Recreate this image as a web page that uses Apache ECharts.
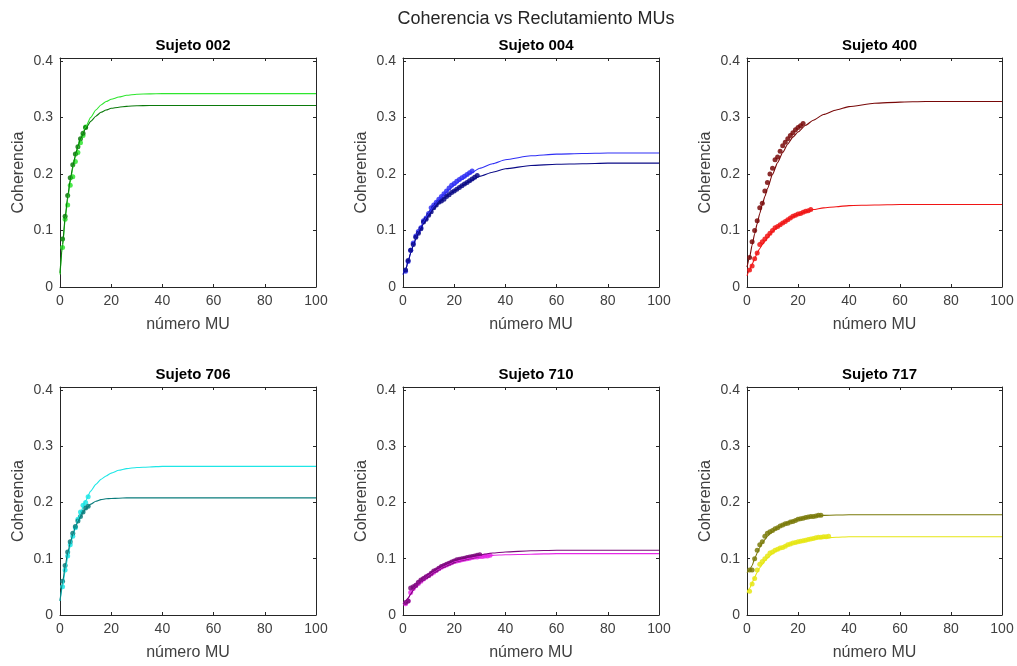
<!DOCTYPE html>
<html lang="es">
<head>
    <meta charset="UTF-8">
    <title>Coherencia vs Reclutamiento MUs</title>
    <script src="https://cdn.jsdelivr.net/npm/echarts@6/dist/echarts.min.js"></script>
</head>
<style>
    body { margin: 0; background: #fff; }
    #chart { width: 1017px; height: 666px; }
</style>
<body>
<div id="chart"></div>
<script>
    // x de los puntos de la curva ajustada
    var curveX = [0, 1, 2, 3, 4, 5, 6, 7, 8, 10, 12, 14, 16, 18, 20, 23, 26, 30, 35, 40, 50, 60, 70, 80, 100];

    var titles = ['Sujeto 002', 'Sujeto 004', 'Sujeto 400', 'Sujeto 706', 'Sujeto 710', 'Sujeto 717'];

    // Sujeto 002
    var s002Dark = [0.085, 0.125, 0.162, 0.193, 0.216, 0.235, 0.248, 0.262, 0.272, 0.282];
    var s002Light = [0.07, 0.12, 0.145, 0.18, 0.195, 0.222, 0.238, 0.255, 0.268, 0.283];
    var f002Dark = [0.025, 0.075, 0.123, 0.16, 0.19, 0.213, 0.233, 0.249, 0.262, 0.28, 0.293, 0.302, 0.309, 0.313, 0.316, 0.318, 0.3195, 0.3205, 0.321, 0.321, 0.321, 0.321, 0.321, 0.321, 0.321];
    var f002Light = [0.022, 0.07, 0.118, 0.155, 0.185, 0.21, 0.23, 0.246, 0.26, 0.283, 0.3, 0.313, 0.322, 0.328, 0.332, 0.336, 0.339, 0.341, 0.3415, 0.342, 0.342, 0.342, 0.342, 0.342, 0.342];

    // Sujeto 004
    var s004Dark = [0.03, 0.047, 0.065, 0.075, 0.088, 0.095, 0.103, 0.115, 0.12, 0.127, 0.133, 0.14, 0.145, 0.15, 0.152, 0.155, 0.16, 0.163, 0.167, 0.17, 0.173, 0.176, 0.179, 0.182, 0.185, 0.188, 0.191, 0.194, 0.197];
    var s004Light = [0.028, 0.045, 0.065, 0.078, 0.09, 0.098, 0.105, 0.117, 0.122, 0.13, 0.14, 0.145, 0.15, 0.155, 0.16, 0.165, 0.17, 0.175, 0.18, 0.183, 0.187, 0.19, 0.193, 0.196, 0.199, 0.202, 0.205];
    var f004Dark = [0.022, 0.03, 0.045, 0.06, 0.073, 0.085, 0.095, 0.104, 0.112, 0.126, 0.138, 0.148, 0.157, 0.164, 0.17, 0.179, 0.187, 0.196, 0.203, 0.209, 0.215, 0.217, 0.218, 0.219, 0.219];
    var f004Light = [0.022, 0.03, 0.045, 0.06, 0.074, 0.086, 0.097, 0.107, 0.115, 0.13, 0.143, 0.154, 0.164, 0.172, 0.18, 0.19, 0.2, 0.21, 0.218, 0.225, 0.232, 0.235, 0.236, 0.237, 0.237];

    // Sujeto 400
    var s400Dark = [0.052, 0.08, 0.1, 0.117, 0.14, 0.148, 0.17, 0.185, 0.2, 0.21, 0.225, 0.23, 0.24, 0.25, 0.256, 0.262, 0.268, 0.273, 0.278, 0.282, 0.285, 0.289];
    var s400Light = [0.03, 0.037, 0.05, 0.06, 0.075, 0.08, 0.085, 0.09, 0.095, 0.1, 0.105, 0.107, 0.11, 0.113, 0.116, 0.119, 0.122, 0.125, 0.127, 0.129, 0.13, 0.132, 0.134, 0.135, 0.137];
    var f400Dark = [0.035, 0.052, 0.074, 0.094, 0.112, 0.13, 0.146, 0.16, 0.174, 0.199, 0.22, 0.238, 0.253, 0.265, 0.274, 0.286, 0.295, 0.305, 0.313, 0.319, 0.325, 0.327, 0.328, 0.328, 0.328];
    var f400Light = [0.02, 0.03, 0.04, 0.05, 0.06, 0.068, 0.075, 0.081, 0.087, 0.098, 0.106, 0.113, 0.119, 0.124, 0.128, 0.133, 0.137, 0.14, 0.142, 0.144, 0.145, 0.146, 0.146, 0.146, 0.146];

    // Sujeto 706
    var s706Dark = [0.06, 0.088, 0.112, 0.13, 0.145, 0.157, 0.167, 0.175, 0.183, 0.19, 0.193];
    var s706Light = [0.05, 0.08, 0.105, 0.125, 0.14, 0.155, 0.17, 0.183, 0.195, 0.2, 0.21];
    var f706Dark = [0.025, 0.057, 0.086, 0.11, 0.128, 0.143, 0.156, 0.166, 0.175, 0.188, 0.197, 0.202, 0.205, 0.2065, 0.207, 0.2075, 0.208, 0.208, 0.208, 0.208, 0.208, 0.208, 0.208, 0.208, 0.208];
    var f706Light = [0.025, 0.05, 0.078, 0.102, 0.123, 0.14, 0.155, 0.169, 0.182, 0.203, 0.22, 0.232, 0.241, 0.247, 0.252, 0.257, 0.26, 0.262, 0.263, 0.264, 0.264, 0.264, 0.264, 0.264, 0.264];

    // Sujeto 710
    var s710Dark = [0.022, 0.025, 0.048, 0.05, 0.053, 0.058, 0.062, 0.065, 0.068, 0.07, 0.074, 0.078, 0.08, 0.083, 0.086, 0.088, 0.09, 0.092, 0.094, 0.096, 0.098, 0.099, 0.1, 0.101, 0.102, 0.103, 0.104, 0.105, 0.106, 0.107];
    var s710Light = [0.02, 0.025, 0.04, 0.047, 0.052, 0.056, 0.06, 0.064, 0.067, 0.07, 0.073, 0.076, 0.079, 0.082, 0.085, 0.087, 0.089, 0.091, 0.093, 0.095, 0.096, 0.097, 0.098, 0.099, 0.1, 0.101, 0.102, 0.103, 0.103, 0.104, 0.104, 0.105, 0.105, 0.106];
    var f710Dark = [0.02, 0.023, 0.03, 0.037, 0.044, 0.05, 0.055, 0.06, 0.064, 0.072, 0.078, 0.083, 0.088, 0.092, 0.096, 0.1, 0.103, 0.107, 0.11, 0.112, 0.114, 0.115, 0.115, 0.115, 0.115];
    var f710Light = [0.02, 0.023, 0.03, 0.037, 0.044, 0.05, 0.055, 0.06, 0.064, 0.071, 0.077, 0.082, 0.087, 0.091, 0.095, 0.098, 0.101, 0.104, 0.106, 0.107, 0.108, 0.109, 0.109, 0.109, 0.109];

    // Sujeto 717
    var s717Dark = [0.08, 0.08, 0.1, 0.115, 0.125, 0.13, 0.14, 0.145, 0.148, 0.15, 0.153, 0.155, 0.158, 0.16, 0.162, 0.163, 0.165, 0.166, 0.168, 0.17, 0.171, 0.172, 0.173, 0.174, 0.175, 0.175, 0.176, 0.177, 0.177];
    var s717Light = [0.042, 0.055, 0.065, 0.08, 0.09, 0.095, 0.1, 0.105, 0.11, 0.112, 0.115, 0.117, 0.119, 0.12, 0.122, 0.125, 0.126, 0.128, 0.129, 0.13, 0.131, 0.132, 0.133, 0.134, 0.135, 0.136, 0.137, 0.138, 0.138, 0.139, 0.139, 0.14];
    var f717Dark = [0.075, 0.08, 0.088, 0.1, 0.11, 0.12, 0.128, 0.134, 0.14, 0.148, 0.155, 0.16, 0.164, 0.167, 0.17, 0.173, 0.175, 0.177, 0.1775, 0.178, 0.178, 0.178, 0.178, 0.178, 0.178];
    var f717Light = [0.04, 0.047, 0.057, 0.067, 0.076, 0.084, 0.09, 0.096, 0.101, 0.109, 0.115, 0.12, 0.124, 0.127, 0.129, 0.132, 0.135, 0.137, 0.138, 0.139, 0.139, 0.139, 0.139, 0.139, 0.139];

    var panels = [
        {pts: [s002Light, s002Dark], fit: [f002Light, f002Dark], color: ['#2ee62e', '#0b7a0b']},
        {pts: [s004Light, s004Dark], fit: [f004Light, f004Dark], color: ['#2f2ff5', '#0a0a86']},
        {pts: [s400Light, s400Dark], fit: [f400Light, f400Dark], color: ['#f01414', '#780808']},
        {pts: [s706Light, s706Dark], fit: [f706Light, f706Dark], color: ['#1ee6e6', '#0a7c7c']},
        {pts: [s710Light, s710Dark], fit: [f710Light, f710Dark], color: ['#e628e6', '#7a0a7a']},
        {pts: [s717Light, s717Dark], fit: [f717Light, f717Dark], color: ['#e6e614', '#7a7a0a']}
    ];

    var gridPos = [
        {left: 60, top: 58, width: 256, height: 229},
        {left: 403, top: 58, width: 256, height: 229},
        {left: 747, top: 58, width: 255, height: 229},
        {left: 60, top: 387, width: 256, height: 228},
        {left: 403, top: 387, width: 256, height: 228},
        {left: 747, top: 387, width: 255, height: 228}
    ];

    var font = 'Liberation Sans, Arial, sans-serif';
    var axisColor = '#262626';
    var labelColor = '#404040';

    var chart = echarts.init(document.getElementById('chart'));
    var grids = [], xAxes = [], yAxes = [], series = [];
    var titleList = [{
        text: 'Coherencia vs Reclutamiento MUs', left: 531, top: 5, textAlign: 'center',
        textStyle: {fontFamily: font, fontSize: 18, fontWeight: 'normal', color: axisColor}
    }];

    function zip(xs, ys) {
        var out = [];
        for (var i = 0; i < ys.length; i++) out.push([xs[i], ys[i]]);
        return out;
    }
    function idx(arr) {
        var out = [];
        for (var i = 0; i < arr.length; i++) out.push([i + 1, arr[i]]);
        return out;
    }

    panels.forEach(function (p, i) {
        var g = gridPos[i];
        grids.push({left: g.left, top: g.top, width: g.width, height: g.height, containLabel: false});
        titleList.push({
            text: titles[i], left: g.left + g.width / 2, top: g.top - 25, textAlign: 'center',
            textStyle: {fontFamily: font, fontSize: 15, fontWeight: 'bold', color: '#000'}
        });
        [false, true].forEach(function (second) {
            xAxes.push({
                type: 'value', gridIndex: i, min: 0, max: 100, interval: 20,
                position: second ? 'top' : 'bottom',
                name: second ? '' : 'número MU', nameLocation: 'middle', nameGap: 30,
                nameTextStyle: {fontFamily: font, fontSize: 16, color: labelColor},
                axisLine: {show: true, onZero: false, lineStyle: {color: axisColor, width: 1}},
                axisTick: {show: true, inside: true, length: 3, lineStyle: {color: axisColor}},
                axisLabel: {show: !second, margin: 7, fontFamily: font, fontSize: 14, color: labelColor},
                splitLine: {show: false}
            });
            yAxes.push({
                type: 'value', gridIndex: i, min: 0, max: 0.405, interval: 0.1,
                position: second ? 'right' : 'left',
                name: second ? '' : 'Coherencia', nameLocation: 'middle', nameGap: 33,
                nameTextStyle: {fontFamily: font, fontSize: 16, color: labelColor},
                axisLine: {show: true, onZero: false, lineStyle: {color: axisColor, width: 1}},
                axisTick: {show: true, inside: true, length: 3, lineStyle: {color: axisColor}},
                axisLabel: {show: !second, showMaxLabel: false, margin: 7, fontFamily: font, fontSize: 14, color: labelColor},
                splitLine: {show: false}
            });
        });
        for (var k = 0; k < 2; k++) {
            series.push({
                type: 'scatter', xAxisIndex: 2 * i, yAxisIndex: 2 * i,
                symbol: 'circle', symbolSize: 5, silent: true,
                itemStyle: {color: p.color[k], opacity: 0.85},
                data: idx(p.pts[k]), z: 2
            });
            series.push({
                type: 'line', xAxisIndex: 2 * i, yAxisIndex: 2 * i,
                showSymbol: false, smooth: 0.2, smoothMonotone: 'x', silent: true,
                lineStyle: {color: p.color[k], width: 1.1},
                data: zip(curveX, p.fit[k]), z: 3
            });
        }
    });

    var option = {
        backgroundColor: '#fff',
        animation: false,
        title: titleList,
        grid: grids,
        xAxis: xAxes,
        yAxis: yAxes,
        series: series
    };
    chart.setOption(option);
</script>
</body>
</html>
